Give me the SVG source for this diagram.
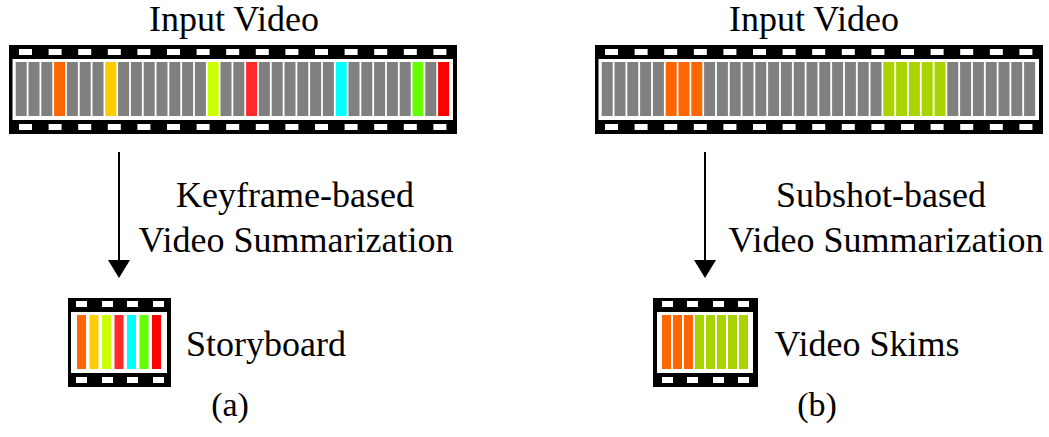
<svg xmlns="http://www.w3.org/2000/svg" xmlns:xlink="http://www.w3.org/1999/xlink" width="1049" height="437" viewBox="0 0 1049 437">
<style>
text{font-family:"Liberation Serif","Times New Roman",serif;font-size:36px;fill:#000;text-anchor:middle}
.blk{fill:#000}.wht{fill:#fff}.g{fill:#808080}
.c1{fill:#ff6600}.c2{fill:#ffcc00}.c3{fill:#ccff00}.c4{fill:#ff2a2a}.c5{fill:#00ffff}.c6{fill:#66ff00}.c7{fill:#ff0000}.c8{fill:#aad400}
.ln{stroke:#000;stroke-width:2;fill:none}
.sub{font-size:34px}
</style>
<defs>
<marker id="ah" markerWidth="10" markerHeight="12" refX="0" refY="5.5" orient="auto" markerUnits="strokeWidth"><path d="M0,0 L9,5.5 L0,11 z" fill="#000"/></marker>
<g id="holes">
<rect x="19" width="13" height="6"/><rect x="48.6" width="13" height="6"/><rect x="78.2" width="13" height="6"/><rect x="107.8" width="13" height="6"/><rect x="137.4" width="13" height="6"/><rect x="167" width="13" height="6"/><rect x="196.6" width="13" height="6"/><rect x="226.2" width="13" height="6"/><rect x="255.8" width="13" height="6"/><rect x="285.4" width="13" height="6"/><rect x="315" width="13" height="6"/><rect x="344.6" width="13" height="6"/><rect x="374.2" width="13" height="6"/><rect x="403.8" width="13" height="6"/><rect x="433.4" width="13" height="6"/>
</g>
<g id="strip">
<rect class="blk" x="9" y="45" width="448" height="89"/>
<rect class="wht" x="12.5" y="59" width="440.5" height="61"/>
<use xlink:href="#holes" y="49" fill="#fff"/>
<use xlink:href="#holes" y="124" fill="#fff"/>
</g>
</defs>

<g id="input-video-a">
<text x="234" y="31">Input Video</text>
<use xlink:href="#strip"/>
<g transform="translate(15.7,62)">
<rect class="g" x="0" width="11" height="54"/><rect class="g" x="12.8" width="11" height="54"/><rect class="g" x="25.6" width="11" height="54"/><rect class="c1" x="38.4" width="11" height="54"/><rect class="g" x="51.2" width="11" height="54"/><rect class="g" x="64" width="11" height="54"/><rect class="g" x="76.8" width="11" height="54"/><rect class="c2" x="89.6" width="11" height="54"/><rect class="g" x="102.4" width="11" height="54"/><rect class="g" x="115.2" width="11" height="54"/><rect class="g" x="128" width="11" height="54"/><rect class="g" x="140.8" width="11" height="54"/><rect class="g" x="153.6" width="11" height="54"/><rect class="g" x="166.4" width="11" height="54"/><rect class="g" x="179.2" width="11" height="54"/><rect class="c3" x="192" width="11" height="54"/><rect class="g" x="204.8" width="11" height="54"/><rect class="g" x="217.6" width="11" height="54"/><rect class="c4" x="230.4" width="11" height="54"/><rect class="g" x="243.2" width="11" height="54"/><rect class="g" x="256" width="11" height="54"/><rect class="g" x="268.8" width="11" height="54"/><rect class="g" x="281.6" width="11" height="54"/><rect class="g" x="294.4" width="11" height="54"/><rect class="g" x="307.2" width="11" height="54"/><rect class="c5" x="320" width="11" height="54"/><rect class="g" x="332.8" width="11" height="54"/><rect class="g" x="345.6" width="11" height="54"/><rect class="g" x="358.4" width="11" height="54"/><rect class="g" x="371.2" width="11" height="54"/><rect class="g" x="384" width="11" height="54"/><rect class="c6" x="396.8" width="11" height="54"/><rect class="g" x="409.6" width="11" height="54"/><rect class="c7" x="422.4" width="11" height="54"/>
</g>
</g>

<g id="input-video-b">
<text x="814" y="31">Input Video</text>
<use xlink:href="#strip" x="586"/>
<g transform="translate(601.7,62)">
<rect class="g" x="0" width="11" height="54"/><rect class="g" x="12.8" width="11" height="54"/><rect class="g" x="25.6" width="11" height="54"/><rect class="g" x="38.4" width="11" height="54"/><rect class="g" x="51.2" width="11" height="54"/><rect class="c1" x="64" width="11" height="54"/><rect class="c1" x="76.8" width="11" height="54"/><rect class="c1" x="89.6" width="11" height="54"/><rect class="g" x="102.4" width="11" height="54"/><rect class="g" x="115.2" width="11" height="54"/><rect class="g" x="128" width="11" height="54"/><rect class="g" x="140.8" width="11" height="54"/><rect class="g" x="153.6" width="11" height="54"/><rect class="g" x="166.4" width="11" height="54"/><rect class="g" x="179.2" width="11" height="54"/><rect class="g" x="192" width="11" height="54"/><rect class="g" x="204.8" width="11" height="54"/><rect class="g" x="217.6" width="11" height="54"/><rect class="g" x="230.4" width="11" height="54"/><rect class="g" x="243.2" width="11" height="54"/><rect class="g" x="256" width="11" height="54"/><rect class="g" x="268.8" width="11" height="54"/><rect class="c8" x="281.6" width="11" height="54"/><rect class="c8" x="294.4" width="11" height="54"/><rect class="c8" x="307.2" width="11" height="54"/><rect class="c8" x="320" width="11" height="54"/><rect class="c8" x="332.8" width="11" height="54"/><rect class="g" x="345.6" width="11" height="54"/><rect class="g" x="358.4" width="11" height="54"/><rect class="g" x="371.2" width="11" height="54"/><rect class="g" x="384" width="11" height="54"/><rect class="g" x="396.8" width="11" height="54"/><rect class="g" x="409.6" width="11" height="54"/><rect class="g" x="422.4" width="11" height="54"/>
</g>
</g>

<g id="connectors">
<line class="ln" x1="119" y1="152" x2="119" y2="260" marker-end="url(#ah)"/>
<line class="ln" x1="705" y1="152" x2="705" y2="260" marker-end="url(#ah)"/>
</g>

<g id="label-a">
<text x="295" y="207">Keyframe-based</text>
<text x="296" y="252">Video Summarization</text>
</g>
<g id="label-b">
<text x="881" y="207">Subshot-based</text>
<text x="886" y="252">Video Summarization</text>
</g>

<g id="storyboard">
<rect class="blk" x="68" y="298" width="103" height="89"/>
<rect class="wht" x="71" y="312" width="96" height="61"/>
<g fill="#fff"><rect x="76" y="301" width="11" height="6"/><rect x="102" y="301" width="11" height="6"/><rect x="127" y="301" width="11" height="6"/><rect x="153" y="301" width="11" height="6"/><rect x="76" y="377" width="11" height="6"/><rect x="102" y="377" width="11" height="6"/><rect x="127" y="377" width="11" height="6"/><rect x="153" y="377" width="11" height="6"/></g>
<rect class="c1" x="77" y="315" width="9" height="54"/><rect class="c2" x="89.5" y="315" width="9" height="54"/><rect class="c3" x="102" y="315" width="9" height="54"/><rect class="c4" x="114.5" y="315" width="9" height="54"/><rect class="c5" x="127" y="315" width="9" height="54"/><rect class="c6" x="139.5" y="315" width="9" height="54"/><rect class="c7" x="152" y="315" width="9" height="54"/>
<text x="266" y="356">Storyboard</text>
<text class="sub" x="230" y="416">(a)</text>
</g>

<g id="video-skims">
<rect class="blk" x="653" y="298" width="105" height="89"/>
<rect class="wht" x="657" y="312" width="96" height="61"/>
<g fill="#fff"><rect x="662" y="301" width="11" height="6"/><rect x="687" y="301" width="11" height="6"/><rect x="713" y="301" width="11" height="6"/><rect x="738" y="301" width="11" height="6"/><rect x="662" y="377" width="11" height="6"/><rect x="687" y="377" width="11" height="6"/><rect x="713" y="377" width="11" height="6"/><rect x="738" y="377" width="11" height="6"/></g>
<rect class="c1" x="662" y="315" width="9" height="54"/><rect class="c1" x="673" y="315" width="9" height="54"/><rect class="c1" x="684" y="315" width="9" height="54"/><rect class="c8" x="695" y="315" width="9" height="54"/><rect class="c8" x="706" y="315" width="9" height="54"/><rect class="c8" x="717" y="315" width="9" height="54"/><rect class="c8" x="728" y="315" width="9" height="54"/><rect class="c8" x="739" y="315" width="9" height="54"/>
<text x="867" y="356">Video Skims</text>
<text class="sub" x="817" y="416">(b)</text>
</g>
</svg>
